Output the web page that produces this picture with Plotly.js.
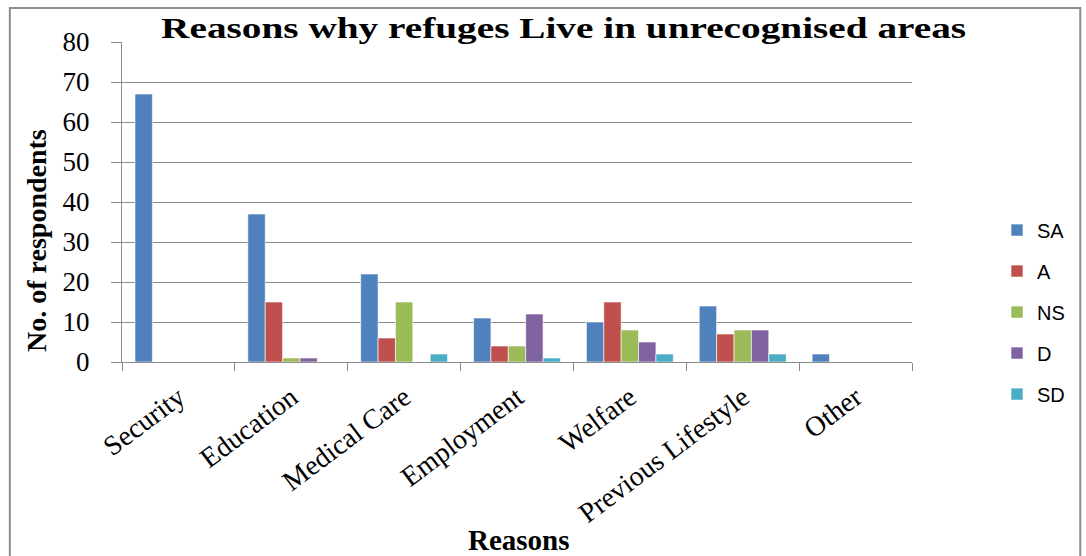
<!DOCTYPE html>
<html>
<head>
<meta charset="utf-8">
<script src="https://cdn.plot.ly/plotly-3.0.1.min.js"></script>
<style>
  html, body { margin: 0; padding: 0; background: #fff; }
  #chart { width: 1086px; height: 556px; }
</style>
</head>
<body>
<div id="chart"></div>
<script>
// Reasons for living in unrecognised areas, counts per response level
const reasons = ["Security", "Education", "Medical Care", "Employment", "Welfare", "Previous Lifestyle", "Other"];
const seriesNames = ["SA", "A", "NS", "D", "SD"];
const seriesColors = ["#4F81BD", "#C0504D", "#9BBB59", "#8064A2", "#4BACC6"];

const SA = [67, 37, 22, 11, 10, 14, 2];
const A  = [0, 15, 6, 4, 15, 7, 0];
const NS = [0, 1, 15, 4, 8, 8, 0];
const D  = [0, 1, 0, 12, 5, 8, 0];
const SD = [0, 0, 2, 1, 2, 2, 0];

const values = [SA, A, NS, D, SD];

// one legend group per series so the legend rows can be spaced apart
const traces = values.map((v, i) => ({
  type: "bar",
  name: seriesNames[i],
  legendgroup: seriesNames[i],
  x: reasons,
  y: v,
  marker: { color: seriesColors[i], line: { color: "rgba(255,255,255,0.6)", width: 1 } },
  hoverinfo: "x+y+name"
}));

const serif = "'Liberation Serif', 'Times New Roman', serif";
const grey = "#8c8c8c";

const layout = {
  width: 1086,
  height: 556,
  margin: { l: 122, r: 174, t: 42, b: 194 },
  paper_bgcolor: "#fff",
  plot_bgcolor: "#fff",
  barmode: "group",
  bargap: 0.23,
  bargroupgap: 0,
  title: {
    text: "<b>Reasons why refuges Live in unrecognised areas</b>",
    font: { family: serif, size: 30, color: "#000" },
    x: 0.519, xanchor: "center",
    y: 0.951, yanchor: "middle"
  },
  xaxis: {
    type: "category",
    tickangle: -37,
    tickfont: { family: serif, size: 28, color: "#000" },
    ticks: "outside",
    tickson: "boundaries",
    ticklen: 8,
    ticklabelstandoff: 7,
    tickcolor: grey,
    showline: true,
    linecolor: grey,
    linewidth: 1,
    showgrid: false
  },
  yaxis: {
    range: [0, 80],
    dtick: 10,
    tickfont: { family: serif, size: 27, color: "#000" },
    ticks: "outside",
    ticklen: 10,
    ticklabelstandoff: 16,
    tickcolor: grey,
    showline: true,
    linecolor: grey,
    linewidth: 1,
    showgrid: true,
    gridcolor: grey,
    gridwidth: 1,
    zeroline: false
  },
  annotations: [
    {
      text: "<b>Reasons</b>",
      xref: "paper", yref: "paper",
      x: 0.503, y: -0.556, xanchor: "center", yanchor: "middle",
      showarrow: false,
      font: { family: serif, size: 29, color: "#000" }
    },
    {
      text: "<b>No. of respondents</b>",
      xref: "paper", yref: "paper",
      x: -0.109, y: 0.381, xanchor: "center", yanchor: "middle",
      textangle: -90,
      showarrow: false,
      font: { family: serif, size: 28, color: "#000" }
    }
  ],
  legend: {
    x: 1.1076, xanchor: "left",
    y: 0.156, yanchor: "middle",
    font: { family: "'Liberation Sans', Arial, sans-serif", size: 20, color: "#000" },
    tracegroupgap: 12,
    itemwidth: 30,
    bgcolor: "rgba(0,0,0,0)"
  },
  shapes: [{
    type: "rect", xref: "paper", yref: "paper",
    x0: -0.142, x1: 1.213, y0: -0.62, y1: 1.106,
    line: { color: grey, width: 2 },
    fillcolor: "rgba(0,0,0,0)", layer: "below"
  }]
};

Plotly.newPlot("chart", traces, layout, { displayModeBar: false, staticPlot: true }).then(gd => {
  // widen the heading glyphs so it spans the plot width
  const t = gd.querySelector(".gtitle");
  if (t) {
    t.setAttribute("textLength", "805");
    t.setAttribute("lengthAdjust", "spacingAndGlyphs");
  }
});
</script>
</body>
</html>
